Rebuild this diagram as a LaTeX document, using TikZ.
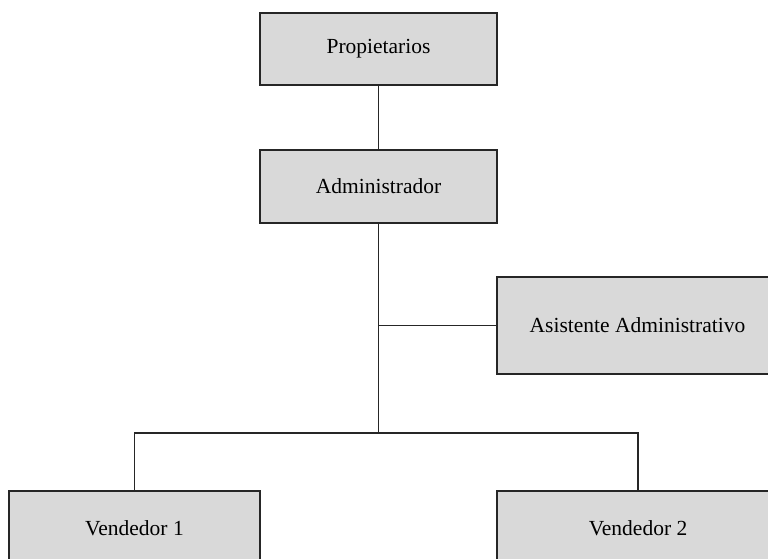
\documentclass[tikz,border=0pt]{standalone}
\usepackage{fontspec}
\setmainfont{Liberation Serif}
\usetikzlibrary{calc}
\begin{document}
\begin{tikzpicture}[x=1pt,y=-1pt,
  orgbox/.style={draw=black!85, line width=1.5pt, fill=black!15, inner sep=0pt,
    font=\fontsize{21.5}{25}\selectfont, text=black},
  link/.style={draw=black!85, line width=1.5pt}]
  \useasboundingbox (0,0) rectangle (768,559);
  \clip (0,0) rectangle (768,559);
  % boxes
  \node[orgbox, minimum width=237pt, minimum height=72pt] (prop) at (378.5,49) {Propietarios};
  \node[orgbox, minimum width=237pt, minimum height=73pt] (adm) at (378.5,186.5) {Administrador};
  \node[orgbox, minimum width=281pt, minimum height=97pt] (asis) at (637.5,325.5) {Asistente Administrativo};
  \node[orgbox, minimum width=251pt, minimum height=74pt] (ven1) at (134.5,528) {Vendedor 1};
  \node[orgbox, minimum width=282pt, minimum height=74pt] (ven2) at (638,528) {Vendedor 2};
  % junction points on the trunk below the administrator
  \coordinate (tee) at (adm.south |- asis.west);
  \coordinate (bus) at ($(adm.south)+(0,209)$);
  % connectors
  \draw[link] (prop.south) -- (adm.north);
  \draw[link] (adm.south) -- (bus);
  \draw[link] (tee) -- (asis.west);
  \draw[link] (ven1.north) -- (ven1.north |- bus) -- (ven2.north |- bus) -- (ven2.north);
\end{tikzpicture}
\end{document}
